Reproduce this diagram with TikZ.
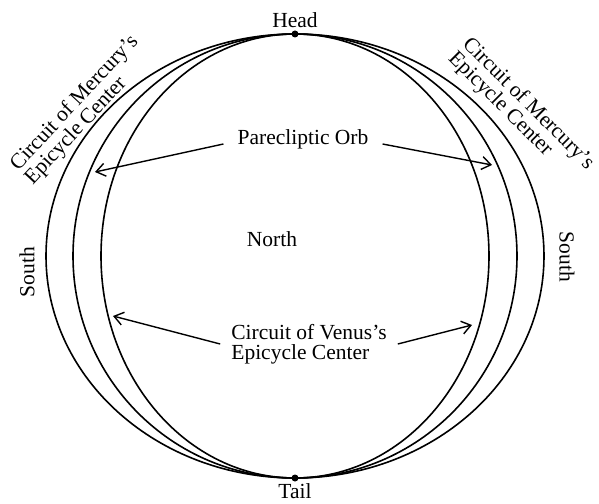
\documentclass[tikz,border=0pt]{standalone}
\usepackage{fontspec}
\setmainfont{Liberation Serif}
\usetikzlibrary{arrows.meta, positioning}
\tikzset{orbit/.style={line width=1.6pt},lbl/.style={font=\fontsize{21.5}{20}\selectfont,inner sep=1pt},multi/.style={lbl,align=left},pointer/.style={line width=1.4pt,-{Straight Barb[length=9pt,width=13pt]}},dot/.style={circle,fill,inner sep=0pt,minimum size=7pt}}

\begin{document}
\begin{tikzpicture}[x=1pt, y=1pt]
\useasboundingbox (-295,-247) rectangle (304,256);
% the three circuits through head and tail
\draw[orbit] (0,0) ellipse [x radius=249pt, y radius=222pt];
\draw[orbit] (0,0) circle [radius=222pt];
\draw[orbit] (0,0) ellipse [x radius=194pt, y radius=222pt];
\node[dot] (head) at (0,222) {};
\node[dot] (tail) at (0,-222) {};
\node[lbl, above=1pt of head] (headlbl) {Head};
\node[lbl, below=1pt of tail] (taillbl) {Tail};
\node[lbl] (north) at (-23,17) {North};
\node[lbl, rotate=90] (southL) at (-268,-16) {South};
\node[lbl, rotate=-90] (southR) at (272,-1) {South};
\node[multi, rotate=47] (mercL) at (-213,146) {Circuit of Mercury’s\\Epicycle Center};
\node[multi, rotate=-45, inner sep=0pt] (mercR) at (226,145) {Circuit of Mercury’s\\Epicycle Center};
\node[lbl, inner xsep=14pt] (orb) at (8,117) {Parecliptic Orb};
\node[multi, inner xsep=11pt] (venus) at (14,-88) {Circuit of Venus’s\\Epicycle Center};
% arrow tips on the circuits
\coordinate (orbL) at (-200,84);
\coordinate (orbR) at (197,91);
\coordinate (venL) at (-182,-60);
\coordinate (venR) at (177,-69);
\draw[pointer] ([yshift=-5pt]orb.west) -- (orbL);
\draw[pointer] ([yshift=-5pt]orb.east) -- (orbR);
\draw[pointer] (venus.west) -- (venL);
\draw[pointer] (venus.east) -- (venR);
\end{tikzpicture}
\end{document}
